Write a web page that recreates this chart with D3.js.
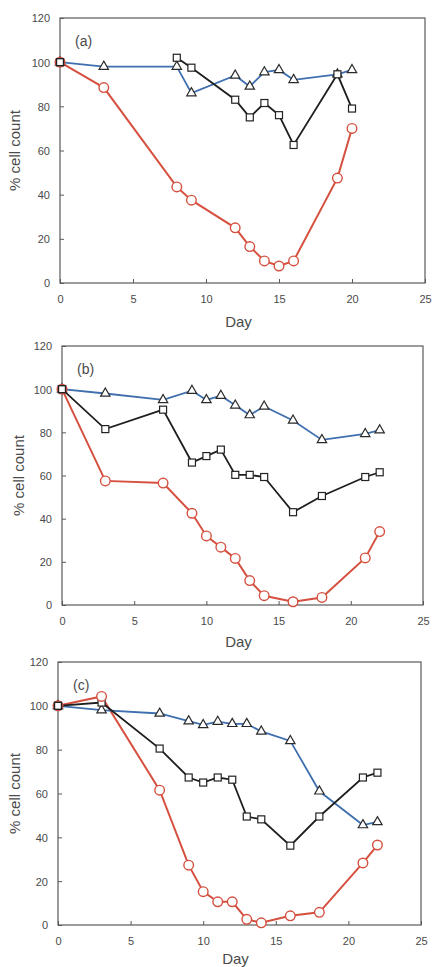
<!DOCTYPE html>
<html>
<head>
<meta charset="utf-8">
<script src="https://cdn.jsdelivr.net/npm/d3@7"></script>
<style>
  body { margin: 0; background: #fff; }
  svg { display: block; font-family: Arial, "Liberation Sans", sans-serif; }
</style>
</head>
<body>
<svg id="chart" width="432" height="967"></svg>
<script>
// x ticks and y ticks shared by all three panels
const xTicks = [0, 5, 10, 15, 20, 25];
const yTicks = [0, 20, 40, 60, 80, 100, 120];
const panelLabels = ["(a)", "(b)", "(c)"];

// panel (a)
const aBlueDays = [0, 3, 8, 9, 12, 13, 14, 15, 16, 19, 20];
const aBlueVals = [100, 98, 98, 86, 94, 89, 95.5, 96.5, 92, 94.5, 96.5];
const aBlackDays = [0, 8, 9, 12, 13, 14, 15, 16, 19, 20];
const aBlackVals = [100, 102, 97.5, 83, 75, 81.5, 76, 62.5, 94.5, 79];
const aRedDays = [0, 3, 8, 9, 12, 13, 14, 15, 16, 19, 20];
const aRedVals = [100, 88.5, 43.5, 37.5, 25, 16.5, 10, 7.7, 10, 47.5, 70];

// panel (b)
const bBlueDays = [0, 3, 7, 9, 10, 11, 12, 13, 14, 16, 18, 21, 22];
const bBlueVals = [100, 98, 95, 99.3, 95, 97, 92.5, 88, 92, 85.5, 76.5, 79.3, 81];
const bBlackDays = [0, 3, 7, 9, 10, 11, 12, 13, 14, 16, 18, 21, 22];
const bBlackVals = [100, 81.5, 90.5, 66, 69, 72, 60.3, 60.3, 59.3, 43, 50.5, 59.3, 61.5];
const bRedDays = [0, 3, 7, 9, 10, 11, 12, 13, 14, 16, 18, 21, 22];
const bRedVals = [100, 57.5, 56.5, 42.5, 32, 26.8, 21.6, 11.3, 4.3, 1.5, 3.5, 21.8, 34];

// panel (c)
const cBlueDays = [0, 3, 7, 9, 10, 11, 12, 13, 14, 16, 18, 21, 22];
const cBlueVals = [100, 98, 96.5, 93, 91.3, 92.8, 91.8, 91.8, 88.3, 84, 61, 45.6, 47];
const cBlackDays = [0, 3, 7, 9, 10, 11, 12, 13, 14, 16, 18, 21, 22];
const cBlackVals = [100, 101.5, 80.5, 67.3, 65, 67.3, 66.3, 49.5, 48.2, 36.2, 49.5, 67.3, 69.5];
const cRedDays = [0, 3, 7, 9, 10, 11, 12, 13, 14, 16, 18, 21, 22];
const cRedVals = [100, 104.3, 61.5, 27.3, 15.2, 10.6, 10.6, 2.6, 1, 4.2, 5.8, 28.3, 36.5];

const panels = [
  { blue: [aBlueDays, aBlueVals], black: [aBlackDays, aBlackVals], red: [aRedDays, aRedVals],
    left: 60, right: 425, top: 18, bottom: 283, dayOff: 44, gap: [0, 8] },
  { blue: [bBlueDays, bBlueVals], black: [bBlackDays, bBlackVals], red: [bRedDays, bRedVals],
    left: 62, right: 423, top: 346, bottom: 605, dayOff: 42 },
  { blue: [cBlueDays, cBlueVals], black: [cBlackDays, cBlackVals], red: [cRedDays, cRedVals],
    left: 58, right: 421, top: 662, bottom: 925, dayOff: 39 }
];

const svg = d3.select("#chart");
const frameColor = "#5a5a5a";
const textColor = "#4a4a4a";
const blueColor = "#3f6fae";
const redColor = "#d5503f";
const blackColor = "#1e1e1e";

function zip(days, vals) {
  return days.map((d, i) => ({ day: d, val: vals[i] }));
}

panels.forEach((p, pi) => {
  const x = d3.scaleLinear().domain([0, 25]).range([p.left, p.right]);
  const y = d3.scaleLinear().domain([0, 120]).range([p.bottom, p.top]);
  const g = svg.append("g");

  // frame
  g.append("rect")
    .attr("x", p.left).attr("y", p.top)
    .attr("width", p.right - p.left).attr("height", p.bottom - p.top)
    .attr("fill", "none").attr("stroke", frameColor).attr("stroke-width", 1.2);

  // axes with inward ticks
  const xAxis = g.append("g")
    .attr("transform", "translate(0," + p.bottom + ")")
    .call(d3.axisBottom(x).tickValues(xTicks).tickSizeInner(-4).tickSizeOuter(0).tickPadding(12));
  const yAxis = g.append("g")
    .attr("transform", "translate(" + p.left + ",0)")
    .call(d3.axisLeft(y).tickValues(yTicks).tickSizeInner(-4).tickSizeOuter(0).tickPadding(10));
  [xAxis, yAxis].forEach((ax) => {
    ax.select(".domain").remove();
    ax.selectAll("line").attr("stroke", frameColor);
    ax.selectAll("text").attr("fill", textColor).style("font-size", "11px");
  });
  yAxis.selectAll("text").attr("dy", "0.35em");

  g.append("text")
    .attr("x", (p.left + p.right) / 2 - 4)
    .attr("y", p.bottom + p.dayOff)
    .attr("text-anchor", "middle")
    .attr("fill", textColor)
    .style("font-size", "15px")
    .text("Day");

  g.append("text")
    .attr("transform", "translate(" + (pi === 1 ? 24 : 20) + "," + (p.top + p.bottom) / 2 + ") rotate(-90)")
    .attr("text-anchor", "middle")
    .attr("fill", textColor)
    .style("font-size", "15px")
    .text("% cell count");

  g.append("text")
    .attr("x", p.left + 15)
    .attr("y", p.top + 28)
    .attr("fill", textColor)
    .style("font-size", "14px")
    .text(panelLabels[pi]);

  const line = d3.line()
    .x((d) => x(d.day))
    .y((d) => y(d.val));

  const blue = zip(p.blue[0], p.blue[1]);
  const black = zip(p.black[0], p.black[1]);
  const red = zip(p.red[0], p.red[1]);

  // black line skips the gap in panel (a)
  let blackSegs = [black];
  if (p.gap) {
    blackSegs = [black.filter((d) => d.day <= p.gap[0]), black.filter((d) => d.day >= p.gap[1])];
  }

  g.append("path").datum(red).attr("d", line)
    .attr("fill", "none").attr("stroke", redColor).attr("stroke-width", 2);
  g.append("path").datum(blue).attr("d", line)
    .attr("fill", "none").attr("stroke", blueColor).attr("stroke-width", 1.8);
  blackSegs.forEach((s) => {
    g.append("path").datum(s).attr("d", line)
      .attr("fill", "none").attr("stroke", blackColor).attr("stroke-width", 1.8);
  });

  // markers
  g.selectAll(".tri").data(blue).enter().append("path")
    .attr("transform", (d) => "translate(" + x(d.day) + "," + y(d.val) + ")")
    .attr("d", d3.symbol().type(d3.symbolTriangle).size(38))
    .attr("fill", "#fff").attr("stroke", "#2a2a2a").attr("stroke-width", 1.2);
  g.selectAll(".sq").data(black).enter().append("rect")
    .attr("x", (d) => x(d.day) - 3.5).attr("y", (d) => y(d.val) - 3.5)
    .attr("width", 7).attr("height", 7)
    .attr("fill", "#fff").attr("stroke", "#222").attr("stroke-width", 1.2);
  g.selectAll(".circ").data(red).enter().append("circle")
    .attr("cx", (d) => x(d.day)).attr("cy", (d) => y(d.val))
    .attr("r", 4.8)
    .attr("fill", "#fff").attr("stroke", redColor).attr("stroke-width", 1.4);

  // square at day 0 drawn on top, as in the figure
  g.append("rect")
    .datum(black[0])
    .attr("x", (d) => x(d.day) - 3.5).attr("y", (d) => y(d.val) - 3.5)
    .attr("width", 7).attr("height", 7)
    .attr("fill", "none").attr("stroke", "#222").attr("stroke-width", 1.4);
});
</script>
</body>
</html>
